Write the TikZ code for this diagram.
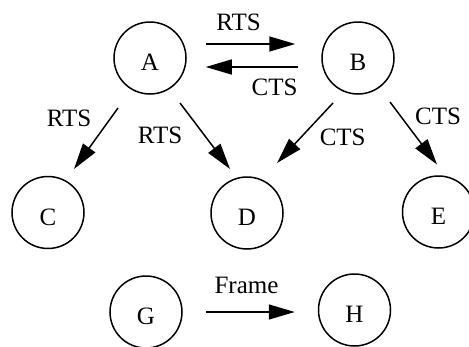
\documentclass[tikz,border=0pt]{standalone}
\usepackage{fontspec}
\setmainfont{Liberation Serif}
\usetikzlibrary{arrows.meta,calc}

\tikzset{
  station/.style={circle, draw, line width=1.5pt, minimum size=72pt, inner sep=0pt,
                  text height=25pt, text depth=0pt},
  msg/.style={line width=1.5pt, -{Triangle[length=26pt,width=15pt]}},
  tag/.style={inner sep=0pt, anchor=base},
}

\begin{document}
\begin{tikzpicture}[x=1pt, y=-1pt, font=\fontsize{25}{30}\selectfont]
  \useasboundingbox (0,0) rectangle (469,346);

  % stations
  \node[station] (A) at (150,58)    {A};
  \node[station] (B) at (358,58)    {B};
  \node[station] (C) at (48,212.5)  {C};
  \node[station] (D) at (247,213)   {D};
  \node[station] (E) at (438.5,212) {E};
  \node[station] (G) at (146,312)   {G};
  \node[station] (H) at (354.5,310) {H};

  % handshake between A and B
  \draw[msg] ($(A.east)+(19,-14)$) -- ($(A.east -| B.west)+(-26,-14)$);
  \draw[msg] ($(B.west)+(-23,9)$) -- ($(A.east)+(19,9)$);

  % overheard messages
  \draw[msg] ($(A)+(-32,50)$)  -- ($(C)+(26,-43.5)$);
  \draw[msg] ($(A)+(30,45)$)   -- ($(D)+(-17,-44)$);
  \draw[msg] ($(B)+(-25,45)$)  -- ($(D)+(30,-50)$);
  \draw[msg] ($(B)+(32,44)$)   -- ($(E)+(-1.5,-47.5)$);

  % data frame
  \draw[msg] ($(G.east)+(23,0)$) -- ($(G.east -| H.west)+(-23,0)$);

  % message labels
  \node[tag] (lAB) at (238.5,30)  {RTS};
  \node[tag] (lBA) at (274.5,95)  {CTS};
  \node[tag] (lAC) at (69,126.7)  {RTS};
  \node[tag] (lAD) at (160,143)   {RTS};
  \node[tag] (lBD) at (342.7,145) {CTS};
  \node[tag] (lBE) at (438,124)   {CTS};
  \node[tag] (lGH) at (246.5,293.3) {Frame};
\end{tikzpicture}
\end{document}
